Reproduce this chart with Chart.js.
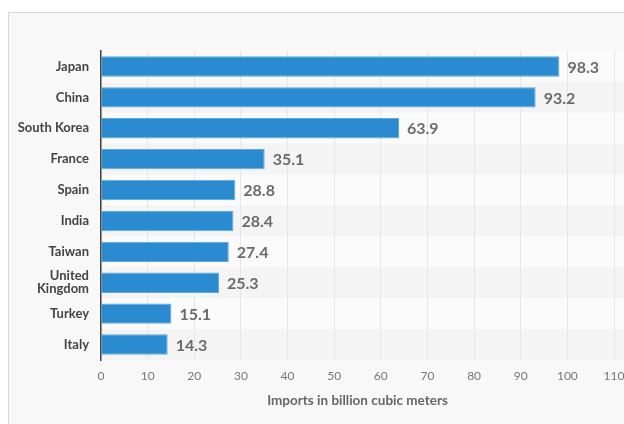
<!DOCTYPE html>
<html>
<head>
<meta charset="utf-8">
<script src="https://cdn.jsdelivr.net/npm/chart.js@4"></script>
<style>
  html, body { margin: 0; padding: 0; background: #fff; }
  #wrap { width: 624px; height: 424px; position: relative; }
</style>
</head>
<body>
<div id="wrap"><canvas id="chart" width="624" height="424"></canvas></div>
<script>
// data
const countries = ["Japan", "China", "South Korea", "France", "Spain", "India", "Taiwan", ["United", "Kingdom"], "Turkey", "Italy"];
const imports = [98.3, 93.2, 63.9, 35.1, 28.8, 28.4, 27.4, 25.3, 15.1, 14.3];
const xTicks = [0, 10, 20, 30, 40, 50, 60, 70, 80, 90, 100, 110];
const axisTitle = "Imports in billion cubic meters";

const FONT = "Lato, 'Open Sans', sans-serif";

// panel + row bands
const panelBg = {
    id: "panelBg",
    beforeDraw(chart) {
        const { ctx, chartArea, scales } = chart;
        ctx.save();
        ctx.fillStyle = "#f8f8f8";
        ctx.fillRect(8, 12, 624 - 8, 424 - 12);
        ctx.strokeStyle = "#d6d6d6";
        ctx.lineWidth = 1;
        ctx.beginPath();
        ctx.moveTo(8.5, 424);
        ctx.lineTo(8.5, 12.5);
        ctx.lineTo(624, 12.5);
        ctx.stroke();

        const y = scales.y;
        const step = (y.bottom - y.top) / countries.length;
        for (let i = 0; i < countries.length; i++) {
            ctx.fillStyle = i % 2 === 0 ? "#fbfbfb" : "#f4f4f4";
            ctx.fillRect(chartArea.left, y.top + i * step, 624 - chartArea.left, step);
        }
        ctx.restore();
    }
};

// value labels
const valueLabels = {
    id: "valueLabels",
    afterDatasetsDraw(chart) {
        const { ctx } = chart;
        const meta = chart.getDatasetMeta(0);
        ctx.save();
        ctx.fillStyle = "#6b6b6b";
        ctx.font = "bold 16px " + FONT;
        ctx.textAlign = "left";
        ctx.textBaseline = "middle";
        meta.data.forEach((bar, i) => {
            ctx.fillText(imports[i].toFixed(1), bar.x + 8, bar.y + 1);
        });
        ctx.restore();
    }
};

new Chart(document.getElementById("chart"), {
    type: "bar",
    data: {
        labels: countries,
        datasets: [{
            data: imports,
            backgroundColor: "#2b8bd0",
            borderColor: "#5ba9df",
            borderWidth: 1,
            borderSkipped: "left",
            barPercentage: 0.66,
            categoryPercentage: 1
        }]
    },
    options: {
        indexAxis: "y",
        responsive: false,
        animation: false,
        layout: { padding: { top: 51, right: 0, bottom: 0, left: 8 } },
        plugins: {
            legend: { display: false },
            tooltip: { enabled: false }
        },
        scales: {
            x: {
                min: 0,
                max: 110,
                afterBuildTicks: (scale) => { scale.ticks = xTicks.map(v => ({ value: v })); },
                afterFit: (scale) => {
                    scale.height = 64;
                    scale.paddingRight = 10;
                    scale.paddingLeft = 0;
                },
                grid: { color: "#e6e6e6", drawTicks: false },
                border: { display: false },
                ticks: {
                    color: "#777",
                    padding: 9,
                    font: { family: FONT, size: 12 }
                },
                title: {
                    display: true,
                    text: axisTitle,
                    color: "#666",
                    font: { family: FONT, size: 13.5, weight: "bold" },
                    padding: { top: 4, bottom: 15 }
                }
            },
            y: {
                afterFit: (scale) => { scale.width = 93; },
                grid: { display: false, drawTicks: false },
                border: { display: true, color: "#444", width: 1.5 },
                ticks: {
                    autoSkip: false,
                    color: "#444",
                    padding: 12,
                    font: { family: FONT, size: 13, weight: "bold", lineHeight: 1.0 }
                }
            }
        }
    },
    plugins: [panelBg, valueLabels]
});
</script>
</body>
</html>
